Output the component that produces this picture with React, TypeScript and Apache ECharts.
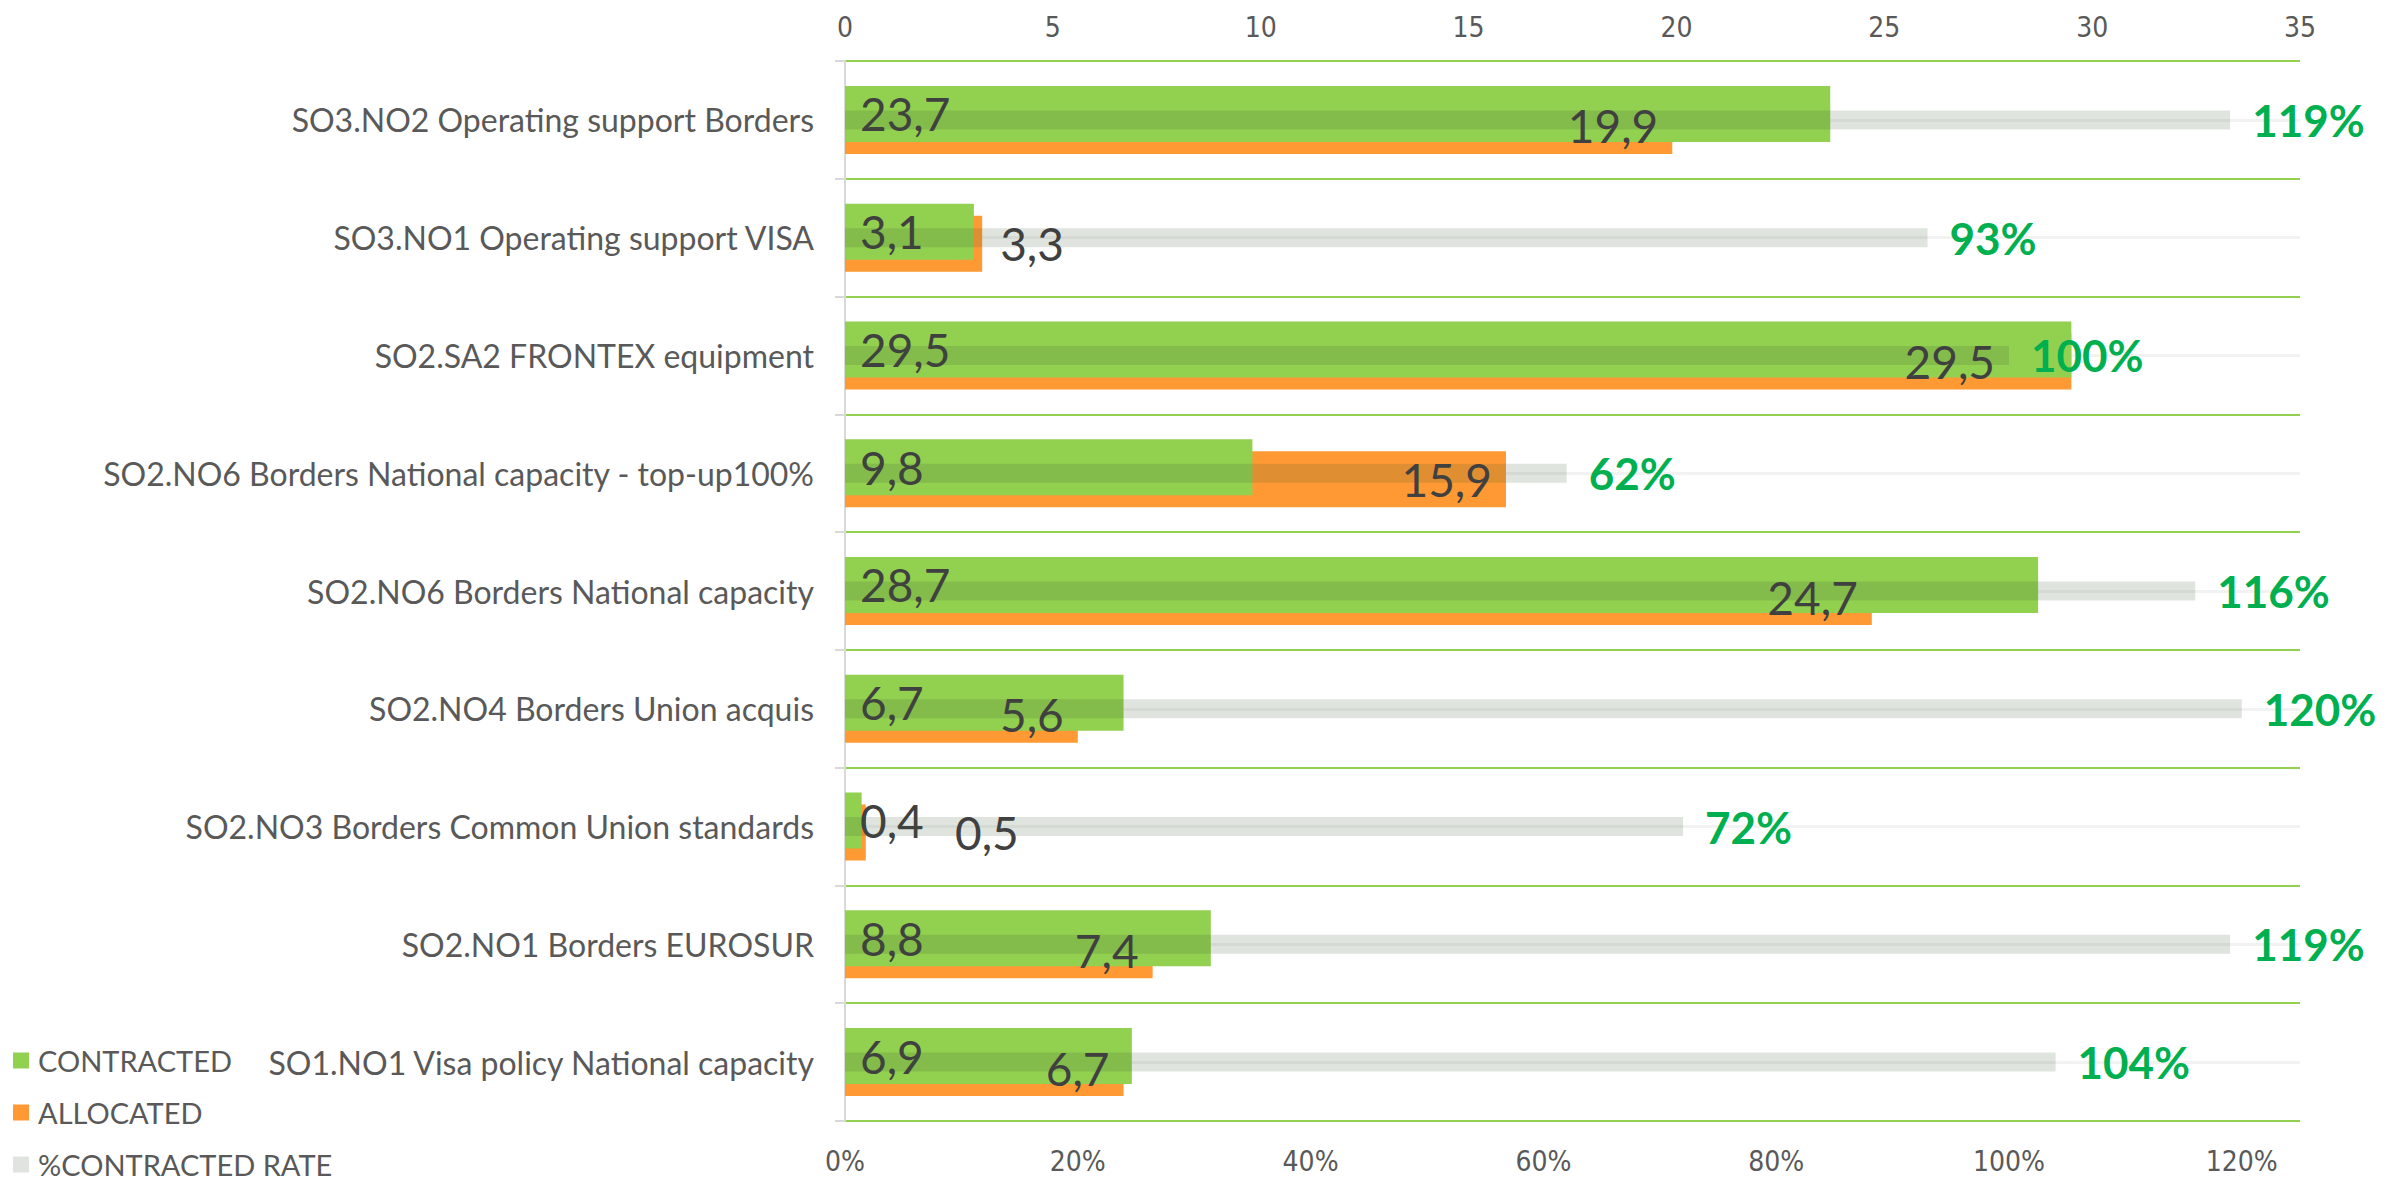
import React, { useEffect, useRef } from "react";
import * as echarts from "echarts";

const categories = [
  "SO3.NO2 Operating support Borders",
  "SO3.NO1 Operating support VISA",
  "SO2.SA2 FRONTEX equipment",
  "SO2.NO6 Borders National capacity - top-up100%",
  "SO2.NO6 Borders National capacity",
  "SO2.NO4 Borders Union acquis",
  "SO2.NO3 Borders Common Union standards",
  "SO2.NO1 Borders EUROSUR",
  "SO1.NO1 Visa policy National capacity",
];
const contracted = [23.7, 3.1, 29.5, 9.8, 28.7, 6.7, 0.4, 8.8, 6.9];
const allocated = [19.9, 3.3, 29.5, 15.9, 24.7, 5.6, 0.5, 7.4, 6.7];
const contractedRate = [1.19, 0.93, 1.0, 0.62, 1.16, 1.2, 0.72, 1.19, 1.04];
const seriesNames = ["CONTRACTED", "ALLOCATED", "%CONTRACTED RATE"];
const valueAxisMax = 35;
const valueAxisStep = 5;
const rateAxisMax = 1.25;
const rateAxisStep = 0.2;

const GRID_LEFT = 845;
const GRID_TOP = 61;
const GRID_W = 1455;
const GRID_H = 1060;
const BAR_W = 56;
const BAR_SHIFT = 12;

const FONT = "Lato, 'Noto Sans', sans-serif";
const NARROW = "'Liberation Sans Narrow', 'DejaVu Sans Condensed', sans-serif";

const fmt = (v: number) => v.toFixed(1).replace(".", ",");

export default function App() {
  const ref = useRef<HTMLDivElement>(null);
  useEffect(() => {
    if (!ref.current) return;
    const chart = echarts.init(ref.current, undefined, { renderer: "svg" });
    const pxPerValue = GRID_W / valueAxisMax;
    const pxPerRate = GRID_W / rateAxisMax;

    const allocatedLabelData = allocated.map((v, i) => {
      const barPx = v * pxPerValue;
      if (barPx < 160) {
        return {
          value: v,
          label: { position: "right", distance: Math.max(18, 110 - barPx), offset: [0, BAR_SHIFT / 2] },
        };
      }
      const grayEnd = contractedRate[i] * pxPerRate;
      const labelEnd = Math.min(barPx - 14, grayEnd - 14);
      return {
        value: v,
        label: {
          position: "insideRight",
          distance: 14,
          offset: [labelEnd - (barPx - 14), BAR_SHIFT / 2],
        },
      };
    });

    const valueLabel = {
      show: true,
      fontSize: 46,
      color: "#404040",
      fontFamily: FONT,
      formatter: (p: any) => fmt(p.value),
    };

    const gapPct = ((BAR_SHIFT / BAR_W - 1) * 100).toFixed(2) + "%";

    chart.setOption({
      animation: false,
      textStyle: { fontFamily: FONT },
      grid: { left: GRID_LEFT, top: GRID_TOP, width: GRID_W, height: GRID_H },
      legend: {
        orient: "vertical",
        left: 13,
        top: 1046,
        padding: 0,
        itemWidth: 16,
        itemHeight: 16,
        itemGap: 23,
        icon: "rect",
        data: seriesNames,
        textStyle: {
          fontSize: 29,
          lineHeight: 28,
          color: "#595959",
          fontFamily: FONT,
          padding: [0, 0, 0, 4],
        },
      },
      xAxis: [
        {
          type: "value",
          position: "top",
          min: 0,
          max: valueAxisMax,
          interval: valueAxisStep,
          axisLine: { show: false },
          axisTick: { show: false },
          splitLine: { show: false },
          axisLabel: { fontSize: 28, color: "#595959", margin: 20, fontFamily: NARROW },
        },
        {
          type: "value",
          position: "bottom",
          min: 0,
          max: rateAxisMax,
          interval: rateAxisStep,
          axisLine: { show: false },
          axisTick: { show: false },
          splitLine: { show: false },
          axisLabel: {
            fontSize: 28,
            color: "#595959",
            margin: 26,
            fontFamily: NARROW,
            showMaxLabel: false,
            formatter: (v: number) => (v > 1.21 ? "" : Math.round(v * 100) + "%"),
          },
        },
      ],
      yAxis: [
        {
          type: "category",
          data: categories,
          inverse: true,
          axisLine: { show: true, lineStyle: { color: "#D9D9D9", width: 2 } },
          axisTick: { show: true, length: 10, lineStyle: { color: "#D9D9D9", width: 2 } },
          splitLine: { show: true, lineStyle: { color: "#92D050", width: 2 } },
          axisLabel: { fontSize: 32, color: "#595959", margin: 31, fontFamily: FONT },
        },
        {
          type: "category",
          data: categories,
          inverse: true,
          position: "left",
          axisLine: { show: false },
          axisLabel: { show: false },
          splitLine: { show: false },
          axisTick: {
            show: true,
            inside: true,
            alignWithLabel: true,
            length: GRID_W,
            lineStyle: { color: "#F2F2F2", width: 3 },
          },
        },
        {
          type: "category",
          data: categories,
          inverse: true,
          position: "left",
          axisLine: { show: false },
          axisLabel: { show: false },
          splitLine: { show: false },
          axisTick: { show: false },
        },
      ],
      series: [
        {
          name: seriesNames[0],
          type: "bar",
          xAxisIndex: 0,
          yAxisIndex: 0,
          barWidth: BAR_W,
          barGap: gapPct,
          z: 3,
          itemStyle: { color: "#92D050" },
          label: { ...valueLabel, position: "insideLeft", distance: 15 },
          data: contracted,
        },
        {
          name: seriesNames[1],
          type: "bar",
          xAxisIndex: 0,
          yAxisIndex: 0,
          barWidth: BAR_W,
          barGap: gapPct,
          z: 2,
          itemStyle: { color: "#FF9933" },
          label: { show: false },
          data: allocated,
        },
        {
          name: seriesNames[2],
          type: "bar",
          xAxisIndex: 1,
          yAxisIndex: 1,
          barWidth: 19,
          z: 4,
          itemStyle: { color: "rgba(60,90,50,0.16)" },
          label: {
            show: true,
            position: "right",
            distance: 22,
            fontSize: 44,
            fontWeight: "bold",
            color: "#00B050",
            fontFamily: FONT,
            formatter: (p: any) => Math.round(p.value * 100) + "%",
          },
          data: contractedRate,
        },
        {
          name: "allocated-labels",
          type: "bar",
          xAxisIndex: 0,
          yAxisIndex: 2,
          barWidth: BAR_W,
          z: 5,
          silent: true,
          itemStyle: { color: "rgba(0,0,0,0)" },
          label: { ...valueLabel },
          data: allocatedLabelData,
        },
      ],
    });
    return () => chart.dispose();
  }, []);
  return (
    <div
      ref={ref}
      style={{ position: "fixed", left: 0, top: 0, width: 2405, height: 1181, background: "#fff" }}
    />
  );
}
